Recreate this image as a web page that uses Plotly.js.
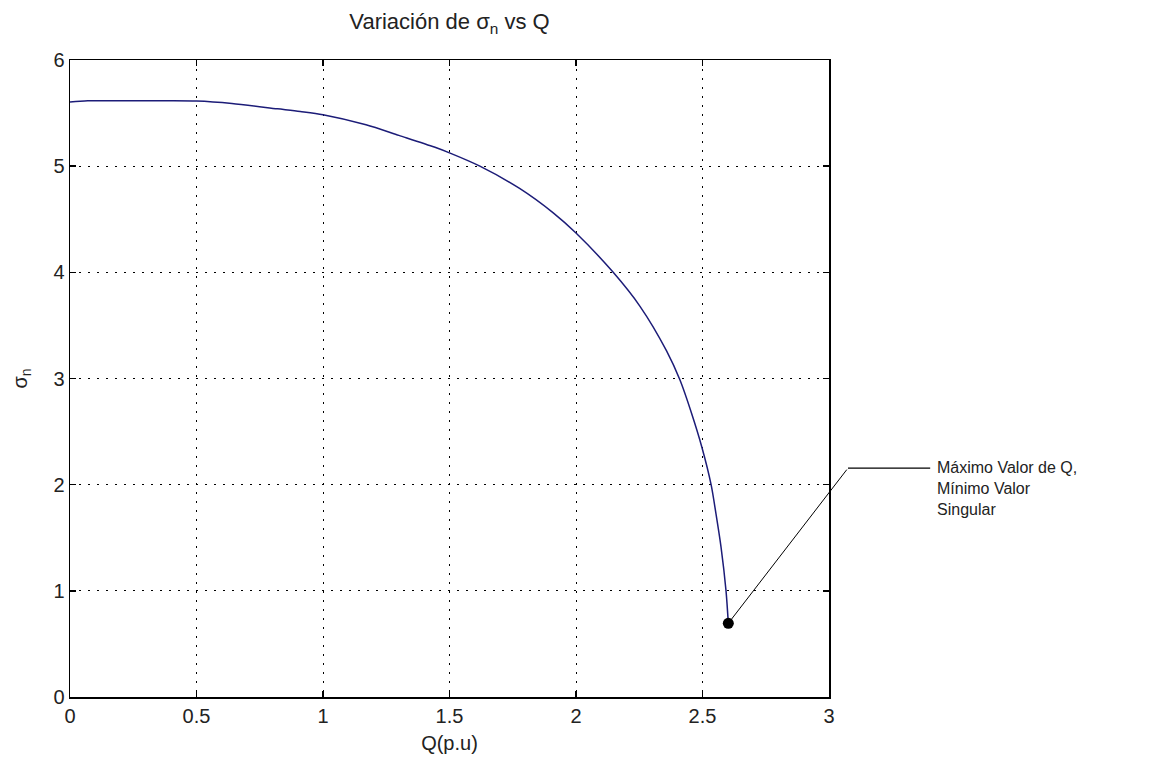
<!DOCTYPE html>
<html>
<head>
<meta charset="utf-8">
<script src="https://cdn.plot.ly/plotly-3.0.1.min.js"></script>
<style>html,body{margin:0;padding:0;background:#fff;}</style>
</head>
<body>
<div id="chart" style="width:1161px;height:765px;"></div>
<script>
// Curve: Q (p.u) vs sigma_n
const Q = [0, 0.07, 0.2, 0.35, 0.5, 0.64, 0.82, 0.91, 1.0, 1.17, 1.30, 1.44, 1.5, 1.62, 1.777, 1.91, 2.0, 2.147, 2.253, 2.358, 2.411, 2.457, 2.497, 2.534, 2.553, 2.573, 2.593, 2.602];
const sigma = [5.605, 5.615, 5.615, 5.615, 5.613, 5.59, 5.54, 5.515, 5.485, 5.39, 5.29, 5.18, 5.125, 5.0, 4.79, 4.56, 4.37, 4.0, 3.68, 3.26, 2.985, 2.67, 2.357, 2.0, 1.73, 1.417, 1.0, 0.694];
const xTicks = [0, 0.5, 1, 1.5, 2, 2.5, 3];
const xTickLabels = ['0', '0.5', '1', '1.5', '2', '2.5', '3'];
const yTicks = [0, 1, 2, 3, 4, 5, 6];
const yTickLabels = ['0', '1', '2', '3', '4', '5', '6'];
const titleText = 'Variación de σ<sub>n</sub> vs Q';
const xTitle = 'Q(p.u)';
const yTitle = 'σ<sub>n</sub>';
const noteText = 'Máximo Valor de Q,<br>Mínimo Valor<br>Singular';
// annotation leader (data units): elbow point and end of horizontal run
const elbow = [3.075, 2.156];
const leaderEnd = 3.40;
const xRange = [0, 3];
const yRange = [0, 6];

const qEnd = Q[Q.length - 1];
const sEnd = sigma[sigma.length - 1];

// convert data units to paper fractions (for items outside the plot area)
const px = v => (v - xRange[0]) / (xRange[1] - xRange[0]);
const py = v => (v - yRange[0]) / (yRange[1] - yRange[0]);

const FONT = 'Liberation Sans, Arial, sans-serif';

const traces = [
  {x: Q, y: sigma, mode: 'lines', line: {color: '#1c1c78', width: 1.5, shape: 'spline', smoothing: 0.8}, hoverinfo: 'x+y'},
  {x: [qEnd], y: [sEnd], mode: 'markers', marker: {color: '#000', size: 11}, hoverinfo: 'x+y'}
];

const axisCommon = {
  showline: true, linecolor: '#000', linewidth: 1.5, mirror: 'ticks',
  ticks: 'inside', ticklen: 6, tickwidth: 1.5, tickcolor: '#000',
  showgrid: true, gridcolor: '#000', gridwidth: 1, griddash: '1.5px,7.5px',
  zeroline: false, tickfont: {family: FONT, size: 20, color: '#222'},
  fixedrange: true
};

const layout = {
  width: 1161, height: 765,
  margin: {l: 70, r: 332, t: 60, b: 68},
  paper_bgcolor: '#fff', plot_bgcolor: '#fff',
  showlegend: false,
  title: {text: titleText, x: 0.5, xref: 'paper', xanchor: 'center', y: 0.972, yanchor: 'middle',
          font: {family: FONT, size: 22, color: '#222'}},
  xaxis: Object.assign({}, axisCommon, {range: xRange, tickvals: xTicks, ticktext: xTickLabels,
          title: {text: xTitle, standoff: 10, font: {family: FONT, size: 20, color: '#222'}}}),
  yaxis: Object.assign({}, axisCommon, {range: yRange, tickvals: yTicks, ticktext: yTickLabels,
          title: {text: yTitle, standoff: 20, font: {family: FONT, size: 20, color: '#222'}}}),
  shapes: [
    {type: 'line', xref: 'paper', yref: 'paper', x0: px(elbow[0]), y0: py(elbow[1]), x1: px(leaderEnd), y1: py(elbow[1]),
     line: {color: '#000', width: 1.2}}
  ],
  annotations: [
    {x: qEnd, y: sEnd, xref: 'x', yref: 'y', ax: elbow[0], ay: elbow[1], axref: 'x', ayref: 'y',
     showarrow: true, arrowhead: 0, arrowwidth: 1, arrowcolor: '#000', text: ''},
    {x: px(leaderEnd + 0.02), y: py(elbow[1] + 0.1), xref: 'paper', yref: 'paper', xanchor: 'left', yanchor: 'top', align: 'left',
     showarrow: false, text: noteText, font: {family: FONT, size: 16, color: '#222'}}
  ]
};

Plotly.newPlot('chart', traces, layout, {displayModeBar: false, staticPlot: true});
</script>
</body>
</html>
